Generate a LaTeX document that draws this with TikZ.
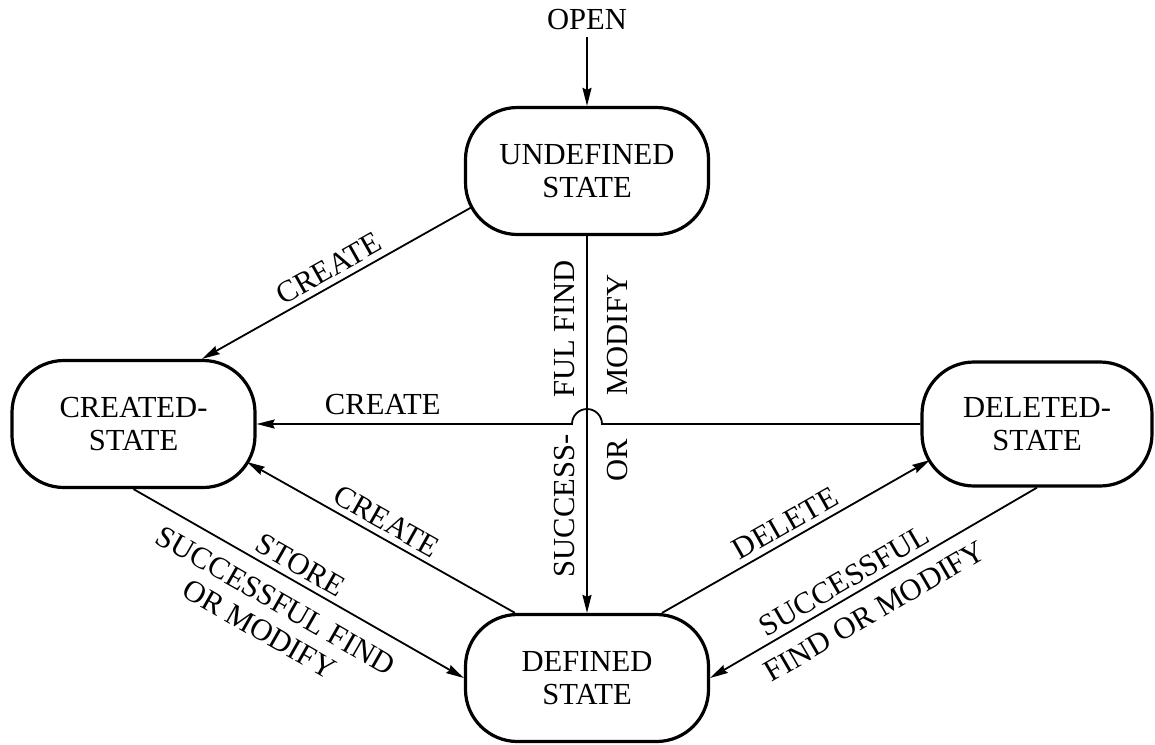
\documentclass[tikz,border=0pt]{standalone}
\usepackage{fontspec}
\setmainfont{Liberation Serif}
\usetikzlibrary{arrows.meta, positioning}
\tikzset{
    statediagram/.style={>={Stealth[length=9pt, width=4.5pt, inset=1pt]}, line width=0.9pt,
        font=\fontsize{15.3}{16.5}\selectfont},
    statebox/.style={draw, line width=1.6pt, rounded corners=26pt, minimum width=121.5pt,
        minimum height=63.5pt, align=center, inner sep=0pt},
    % transition labels, turned along their arrow
    lbl/.style={sloped, inner sep=2.8pt, align=center},
}
\begin{document}
\begin{tikzpicture}[statediagram, x=0.5pt, y=-0.5pt]
    \useasboundingbox (0,0) rectangle (1155,744);

    \node[statebox] (undef)   at (587,171)   {UNDEFINED\\STATE};
    \node[statebox] (created) at (133.5,424) {CREATED-\\STATE};
    \node[statebox, minimum width=115pt, minimum height=62pt] (deleted) at (1037,424) {DELETED-\\STATE};
    \node[statebox] (defined) at (587,678)   {DEFINED\\STATE};
    \node[above=34.5pt of undef, inner sep=3pt] (open) {OPEN};
    \coordinate (cross) at (undef.south |- deleted.west);

    \draw[->] (open) -- (undef);
    \draw[->] ([shift={(-115,36)}]undef.center) -- node[lbl, above, pos=0.5] {CREATE} ([shift={(68.5,0)}]created.north);
    \draw[->] (deleted.west) -- ([shift={(15,0)}]cross) arc[start angle=0, end angle=180, radius=7.5pt]
        -- node[above, pos=0.6, inner sep=4.3pt] {CREATE} (created.east);
    \draw[->] (undef.south)
        -- node[pos=0.247, rotate=90, anchor=south, inner sep=5.5pt] {FUL FIND}
           node[pos=0.716, rotate=90, anchor=south, inner sep=5.5pt] {SUCCESS-}
           node[pos=0.263, rotate=90, anchor=north, inner sep=9.5pt] {MODIFY}
           node[pos=0.595, rotate=90, anchor=north, inner sep=9.5pt] {OR}
        (defined.north);
    \draw[->] (created.south) -- node[lbl, above, pos=0.48] {STORE}
        node[lbl, below, pos=0.47, inner sep=7.5pt] {SUCCESSFUL FIND\\OR MODIFY} (defined.west);
    \draw[->] ([shift={(-72,0)}]defined.north) -- node[lbl, above, pos=0.51] {CREATE} ([shift={(113.5,38)}]created.center);
    \draw[->] ([shift={(75,0)}]defined.north) -- node[lbl, above, pos=0.49] {DELETE} ([shift={(-107,36)}]deleted.center);
    \draw[->] (deleted.south) -- node[lbl, above, pos=0.564] {SUCCESSFUL}
        node[lbl, below, pos=0.535, inner sep=7pt] {FIND OR MODIFY} (defined.east);
\end{tikzpicture}
\end{document}
